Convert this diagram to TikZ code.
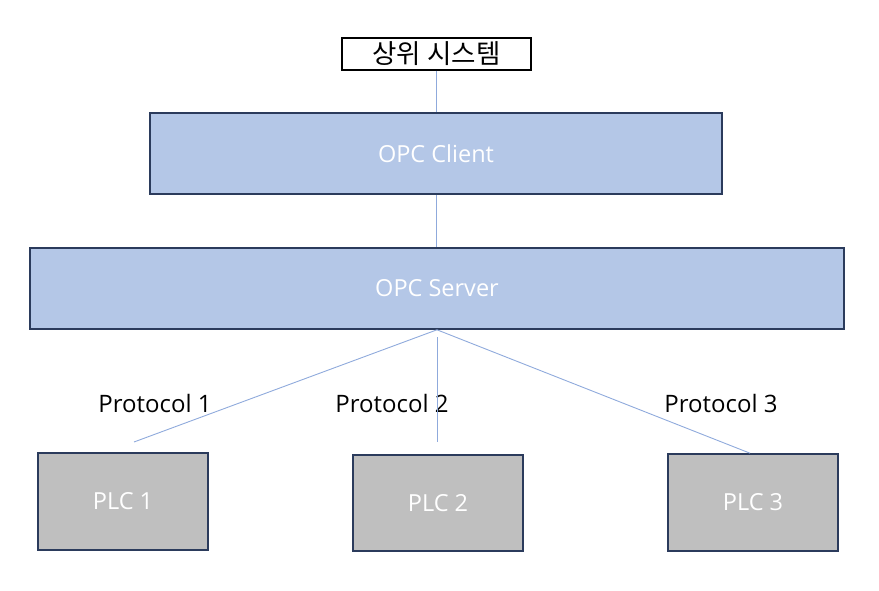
\documentclass[tikz,border=0pt]{standalone}
\usepackage{fontspec}
\setmainfont{Open Sans}
\newfontfamily\krfont{Noto Sans CJK KR}
\usepackage{tikz}
\usetikzlibrary{positioning}
\definecolor{opcblue}{HTML}{B4C7E7}
\definecolor{opcedge}{HTML}{2B3B5C}
\definecolor{plcgray}{HTML}{BFBFBF}
\definecolor{linkblue}{HTML}{8FAADC}
\tikzset{%
	topbox/.style   = {draw=black, fill=white, line width=1.2pt, inner sep=0pt, font=\krfont\fontsize{26.5}{29}\selectfont},
	opcbox/.style   = {draw=opcedge, fill=opcblue, line width=1.6pt, inner sep=0pt, text=white, font=\fontsize{23.5}{26}\selectfont},
	plcbox/.style   = {draw=opcedge, fill=plcgray, line width=1.6pt, inner sep=0pt, text=white, font=\fontsize{23.5}{26}\selectfont, minimum width=170pt},
	proto/.style    = {inner sep=0pt, font=\fontsize{24}{27}\selectfont},
	link/.style     = {draw=linkblue, line width=0.9pt},
}
\begin{document}
\begin{tikzpicture}[x=1pt, y=-1pt]
		\useasboundingbox (0,0) rectangle (879,591);
		\node[topbox, minimum width=189pt, minimum height=32pt] (upper) at (436.5,54) {상위 시스템};
		\node[opcbox, minimum width=572pt, minimum height=81pt] (client) at (436,153.5) {OPC Client};
		\node[opcbox, minimum width=814pt, minimum height=81pt] (server) at (437,288.5) {OPC Server};
		\node[plcbox, minimum height=97pt] (plc1) at (123,501.5) {PLC 1};
		\node[plcbox, minimum height=96pt] (plc2) at (438,503) {PLC 2};
		\node[plcbox, minimum height=97pt] (plc3) at (753,502.5) {PLC 3};
		\node[proto] (p1) at (155,403) {Protocol 1};
		\node[proto] (p2) at (392,403) {Protocol 2};
		\node[proto] (p3) at (721,403) {Protocol 3};
		\coordinate (end1) at (134,442);
		\coordinate (start2) at (437,337);
		\coordinate (end2) at (437,442);
		\draw[link] (upper.south -| client.north) -- (client.north);
		\draw[link] (client.south) -- (client.south |- server.north);
		\draw[link] (server.south) -- (end1);
		\draw[link] (start2) -- (end2);
		\draw[link] (server.south) -- ([xshift=-3pt]plc3.north);
\end{tikzpicture}
\end{document}
